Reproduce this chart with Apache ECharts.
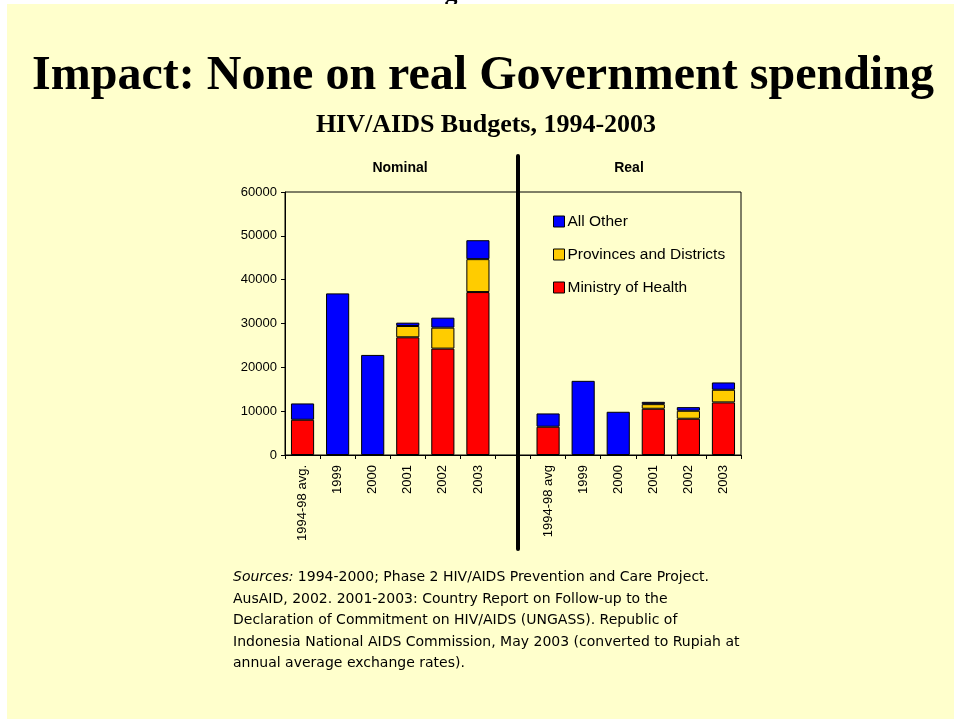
<!DOCTYPE html>
<html>
<head>
<meta charset="utf-8">
<title>HIV/AIDS Budgets, 1994-2003</title>
<script src="https://cdn.jsdelivr.net/npm/echarts@6/dist/echarts.min.js"></script>
<style>
  html, body { margin: 0; padding: 0; background: #ffffff; }
  #chart { width: 954px; height: 719px; }
</style>
</head>
<body>
<div id="chart"></div>
<script>
// Budget categories: nominal years, a spacer slot, then the same years in real terms
const categories = ['1994-98 avg.', '1999', '2000', '2001', '2002', '2003', '',
                    '1994-98 avg', '1999', '2000', '2001', '2002', '2003'];

// Stacked budget components (millions of Rupiah)
const ministryOfHealth   = [8040, null, null, 26850, 24270, 37170, null, 6450, null, null, 10550, 8270, 12000];
const provincesDistricts = [null, null, null, 2580, 4780, 7510, null, null, null, null, 1050, 1820, 2880];
const allOther           = [3720, 36870, 22830, 760, 2280, 4320, null, 3030, 16920, 9860, 530, 830, 1670];

const seriesNames = ['Ministry of Health', 'Provinces and Districts', 'All Other'];
const legendOrder = ['All Other', 'Provinces and Districts', 'Ministry of Health'];

const yMin = 0, yMax = 60000, yStep = 10000;

const sourcesLines = [
  [{ t: 'Sources:', s: 'i' }, { t: ' 1994-2000; Phase 2 HIV/AIDS Prevention and Care Project.', s: 'n' }],
  [{ t: 'AusAID, 2002. 2001-2003: Country Report on Follow-up to the', s: 'n' }],
  [{ t: 'Declaration of Commitment on HIV/AIDS (UNGASS). Republic of', s: 'n' }],
  [{ t: 'Indonesia National AIDS Commission, May 2003 (converted to Rupiah at', s: 'n' }],
  [{ t: 'annual average exchange rates).', s: 'n' }]
];

const SANS = '"Liberation Sans", Arial, sans-serif';
const WIDE_SANS = '"DejaVu Sans", Verdana, sans-serif';
const SERIF = '"Liberation Serif", "Times New Roman", serif';

const chart = echarts.init(document.getElementById('chart'), null, { renderer: 'canvas' });

const colors = { 'Ministry of Health': '#ff0000', 'Provinces and Districts': '#ffcc00', 'All Other': '#0000ff' };
const seriesData = [ministryOfHealth, provincesDistricts, allOther];

const sourcesText = sourcesLines.map(line => line.map(p => '{' + p.s + '|' + p.t + '}').join('')).join('\n');

chart.setOption({
  backgroundColor: '#ffffff',
  animation: false,
  textStyle: { fontFamily: SANS },
  grid: {
    left: 285, top: 192, right: 213, bottom: 264,
    show: true, borderColor: '#000', borderWidth: 1, backgroundColor: 'transparent',
    outerBoundsMode: 'none'
  },
  legend: {
    data: legendOrder,
    orient: 'vertical',
    left: 548, top: 208,
    itemWidth: 11, itemHeight: 11, itemGap: 16,
    icon: 'rect',
    itemStyle: { borderColor: '#000', borderWidth: 1 },
    textStyle: { fontFamily: SANS, fontSize: 15.5, color: '#000', lineHeight: 17, padding: [0, 0, 0, -2] },
    selectedMode: false
  },
  xAxis: {
    type: 'category',
    data: categories,
    axisLine: { show: true, lineStyle: { color: '#000', width: 1 } },
    axisTick: { show: true, length: 4, lineStyle: { color: '#000' } },
    axisLabel: { rotate: 90, margin: 10, interval: 0, color: '#000', fontFamily: SANS, fontSize: 13 },
    splitLine: { show: false }
  },
  yAxis: {
    type: 'value',
    min: yMin, max: yMax, interval: yStep,
    axisLine: { show: true, lineStyle: { color: '#000', width: 1 } },
    axisTick: { show: true, length: 4, lineStyle: { color: '#000' } },
    axisLabel: { margin: 8, color: '#000', fontFamily: SANS, fontSize: 13, formatter: v => String(v) },
    splitLine: { show: false }
  },
  series: seriesNames.map((name, i) => ({
    name: name,
    type: 'bar',
    stack: 'budget',
    barWidth: '66%',
    data: seriesData[i],
    itemStyle: { color: colors[name], borderColor: '#000', borderWidth: 1 },
    emphasis: { disabled: true }
  })),
  graphic: [
    { type: 'rect', z: -10, silent: true, shape: { x: 7, y: 4, width: 947, height: 715 }, style: { fill: '#ffffcc' } },
    { type: 'text', z: -20, silent: true, x: 451, y: 7,
      style: { text: 'g', font: 'bold 26px ' + SERIF, fill: '#000', textAlign: 'center', textVerticalAlign: 'bottom' } },
    { type: 'text', silent: true, x: 483, y: 53,
      style: { text: 'Impact: None on real Government spending', font: 'bold 48px ' + SERIF, fill: '#000', textAlign: 'center', textVerticalAlign: 'top' } },
    { type: 'text', silent: true, x: 486, y: 112,
      style: { text: 'HIV/AIDS Budgets, 1994-2003', font: 'bold 26px ' + SERIF, fill: '#000', textAlign: 'center', textVerticalAlign: 'top' } },
    { type: 'text', silent: true, x: 400, y: 168,
      style: { text: 'Nominal', font: 'bold 14px ' + SANS, fill: '#000', textAlign: 'center', textVerticalAlign: 'middle' } },
    { type: 'text', silent: true, x: 629, y: 168,
      style: { text: 'Real', font: 'bold 14px ' + SANS, fill: '#000', textAlign: 'center', textVerticalAlign: 'middle' } },
    { type: 'line', silent: true, z: 50,
      shape: { x1: 518, y1: 156, x2: 518, y2: 549 },
      style: { stroke: '#000', lineWidth: 4, lineCap: 'round' } },
    { type: 'text', silent: true, x: 233, y: 567,
      style: {
        text: sourcesText,
        fill: '#000',
        rich: {
          i: { fontFamily: WIDE_SANS, fontSize: 14, fontStyle: 'italic', lineHeight: 21.5, fill: '#000' },
          n: { fontFamily: WIDE_SANS, fontSize: 14, lineHeight: 21.5, fill: '#000' }
        }
      } }
  ]
});
</script>
</body>
</html>
